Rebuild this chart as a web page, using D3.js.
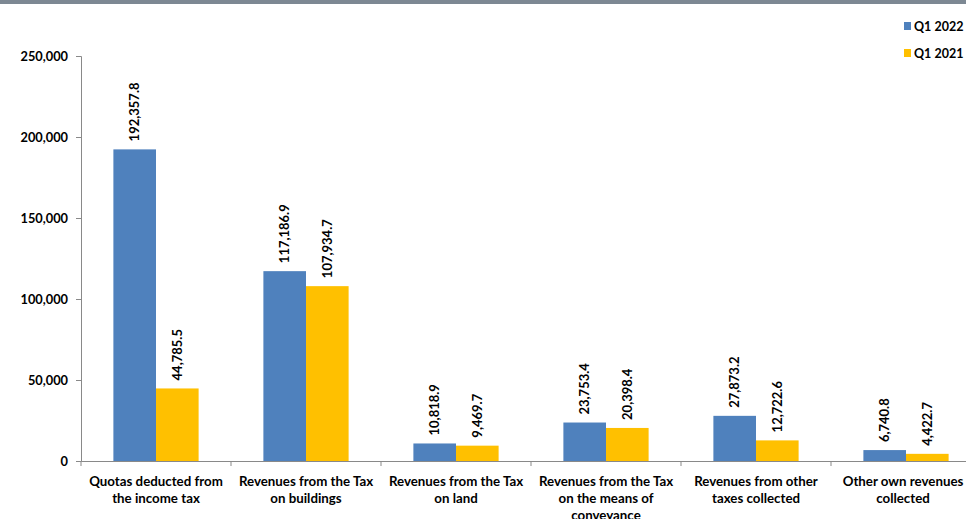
<!DOCTYPE html>
<html>
<head>
<meta charset="utf-8">
<script src="https://cdn.jsdelivr.net/npm/d3@7"></script>
<style>
body { margin: 0; background: #fff; overflow: hidden; }
svg { display: block; font-family: Lato, "Open Sans", sans-serif; font-weight: bold; }
</style>
</head>
<body>
<div id="chart"></div>
<script>
// data
var categories = [
  ["Quotas deducted from", "the income tax"],
  ["Revenues from the Tax", "on buildings"],
  ["Revenues from the Tax", "on land"],
  ["Revenues from the Tax", "on the means of", "conveyance"],
  ["Revenues from other", "taxes collected"],
  ["Other own revenues", "collected"]
];
var q12022 = [192357.8, 117186.9, 10818.9, 23753.4, 27873.2, 6740.8];
var q12021 = [44785.5, 107934.7, 9469.7, 20398.4, 12722.6, 4422.7];
var seriesNames = ["Q1 2022", "Q1 2021"];
var colors = ["#4f81bd", "#ffc000"];
var yTicks = [0, 50000, 100000, 150000, 200000, 250000];

var w = 966, h = 519;

var svg = d3.select("#chart").append("svg")
  .attr("width", w)
  .attr("height", h);

// top grey strip
svg.append("rect").attr("x", 0).attr("y", 0).attr("width", w).attr("height", 4).attr("fill", "#7d8893");

var x = d3.scaleBand()
  .domain(d3.range(categories.length))
  .range([81, 981]);

var y = d3.scaleLinear()
  .domain([0, 250000])
  .range([461, 56]);

var inner = d3.scaleBand()
  .domain([0, 1])
  .range([0, x.bandwidth()])
  .paddingOuter(0.76);

var fmt = d3.format(",.1f");

// y axis
var yAxis = svg.append("g")
  .attr("transform", "translate(81,0)")
  .call(d3.axisLeft(y).tickValues(yTicks).tickSize(5).tickFormat(d3.format(",")));
yAxis.selectAll("path, line").attr("stroke", "#898989");
yAxis.selectAll("text").attr("font-size", 12.8).attr("fill", "#000").attr("x", -13)
  .attr("font-family", "Lato, sans-serif").attr("font-weight", "bold");

// x axis
var xAxis = svg.append("g")
  .attr("transform", "translate(0,461)")
  .call(d3.axisBottom(x).tickSize(0).tickFormat(""));
xAxis.select("path").attr("stroke", "#898989");
xAxis.selectAll(".sep")
  .data(d3.range(categories.length + 1))
  .enter().append("line")
  .attr("class", "sep")
  .attr("x1", function(i) { return 81 + i * x.bandwidth(); })
  .attr("x2", function(i) { return 81 + i * x.bandwidth(); })
  .attr("y1", 0).attr("y2", 5)
  .attr("stroke", "#898989");

var groups = [q12022, q12021];

groups.forEach(function(vals, s) {
  svg.selectAll(".bar" + s)
    .data(vals)
    .enter().append("rect")
    .attr("class", "bar" + s)
    .attr("x", function(d, i) { return x(i) + inner(s); })
    .attr("width", inner.bandwidth())
    .attr("y", function(d) { return y(d); })
    .attr("height", function(d) { return y(0) - y(d); })
    .attr("fill", colors[s]);

  svg.selectAll(".lab" + s)
    .data(vals)
    .enter().append("text")
    .attr("class", "lab" + s)
    .attr("transform", function(d, i) {
      var cx = x(i) + inner(s) + inner.bandwidth() / 2;
      return "translate(" + (cx + 4.5) + "," + (y(d) - 8) + ") rotate(-90)";
    })
    .attr("font-size", 13)
    .attr("text-anchor", "start")
    .text(function(d) { return fmt(d); });
});

// category labels
categories.forEach(function(lines, i) {
  var cx = Math.min(x(i) + x.bandwidth() / 2, 903);
  var t = svg.append("text")
    .attr("x", cx)
    .attr("y", 486)
    .attr("text-anchor", "middle")
    .attr("font-size", 13.3);
  lines.forEach(function(l, k) {
    t.append("tspan").attr("x", cx).attr("dy", k ? 17 : 0).text(l);
  });
});

// legend
var legend = svg.selectAll(".leg")
  .data(seriesNames)
  .enter().append("g")
  .attr("transform", function(d, i) { return "translate(904," + (22 + i * 27) + ")"; });
legend.append("rect").attr("width", 7).attr("height", 8).attr("fill", function(d, i) { return colors[i]; });
legend.append("text").attr("x", 10).attr("y", 9).attr("font-size", 12.5).text(function(d) { return d; });
</script>
</body>
</html>
